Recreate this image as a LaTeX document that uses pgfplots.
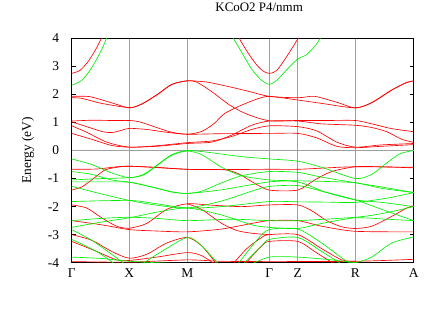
\documentclass[border=0pt]{standalone}
\usepackage{fontspec}
\setmainfont{Liberation Serif}
\usepackage{pgfplots}
\pgfplotsset{compat=1.18}
\definecolor{upc}{RGB}{255,0,0}
\definecolor{dnc}{RGB}{0,240,0}
\pgfplotsset{
  up/.style={color=upc, line width=0.65pt, smooth, tension=0.45, no markers},
  dn/.style={color=dnc, line width=0.65pt, smooth, tension=0.45, no markers},
}
\newcommand{\lblfont}{\fontsize{13.5}{15}\selectfont}
\begin{document}
\begin{tikzpicture}
\path[use as bounding box] (-71.7bp,-63.3bp) rectangle (364.3bp,262.7bp);
\begin{axis}[
  at={(0,0)}, anchor=south west,
  scale only axis, width=342bp, height=224.4bp,
  xmin=0, xmax=342, ymin=-4, ymax=4,
  ytick={-4,...,4},
  xtick={0,57.6,115.6,197.6,226,283.6,342},
  xticklabels={Γ,X,M,Γ,Z,R,A},
  xmajorgrids,
  major grid style={color=gray!75, line width=0.6pt},
  xtick style={draw=none},
  ytick style={color=black, line width=0.5pt},
  major tick length=4bp,
  tick align=inside,
  extra y ticks={0}, extra y tick labels={},
  extra y tick style={grid=major, ytick style={draw=none}},
  /pgf/number format/assume math mode=true,
  tick label style={font=\lblfont},
  yticklabel style={xshift=-9bp},
  xticklabel style={yshift=-2bp},
  ylabel={Energy (eV)},
  every axis y label/.style={at={(axis description cs:-0.128,0.5)}, rotate=90, anchor=center, font=\lblfont},
  title={KCoO2 P4/nmm},
  title style={font=\fontsize{13}{15}\selectfont, at={(axis description cs:0.548,1.111)}, anchor=center},
  axis line style={line width=0.7pt},
]
% spin up (red)
\addplot[up] coordinates {(0,2.75)(8,2.85)(16,3.15)(24,3.6)(31,4.1)};
\addplot[up] coordinates {(166,4.1)(175,3.55)(185,3.05)(192,2.82)(197.6,2.75)(205,2.85)(215,3.35)(226,3.97)(230,4.2)};
\addplot[up] coordinates {(0,1.93)(18,1.92)(40,1.7)(57.6,1.52)(70,1.65)(86,2.0)(100,2.35)(115.6,2.48)(135,2.44)(158,2.27)(178,2.1)(197.6,1.93)(226,1.88)(243,1.93)(265,1.72)(283.6,1.52)(300,1.7)(320,2.15)(335,2.42)(342,2.48)};
\addplot[up] coordinates {(0,1.88)(10,1.86)(30,1.68)(57.6,1.53)(70,1.66)(86,2.01)(100,2.36)(115.6,2.49)(125,2.44)(140,2.1)(158,1.62)(175,1.3)(197.6,1.06)(226,1.07)(255,1.07)(283.6,1.07)(300,0.95)(320,0.78)(342,0.67)};
\addplot[up] coordinates {(0,1.05)(20,1.08)(40,1.07)(57.6,1.07)(68,1.02)(85,0.82)(100,0.65)(115.6,0.58)(130,0.68)(142,0.95)(153,1.32)(170,1.62)(185,1.83)(197.6,1.93)(226,1.80)(250,1.68)(283.6,1.52)(300,1.71)(320,2.16)(335,2.43)(342,2.48)};
\addplot[up] coordinates {(0,1.02)(15,0.85)(30,0.68)(40,0.64)(50,0.72)(57.6,0.79)(75,0.75)(95,0.65)(115.6,0.58)(150,0.6)(197.6,0.61)(226,0.61)(245,0.45)(265,0.15)(283.6,0.1)(310,0.15)(342,0.21)};
\addplot[up] coordinates {(0,0.88)(15,0.65)(35,0.3)(57.6,0.12)(85,0.17)(115.6,0.28)(140,0.34)(160,0.5)(180,0.75)(197.6,0.88)(226,0.85)(245,0.7)(265,0.3)(283.6,0.12)(310,0.2)(342,0.25)};
\addplot[up] coordinates {(0,0.61)(20,0.4)(40,0.18)(57.6,0.12)(85,0.15)(115.6,0.25)(140,0.3)(160,0.55)(180,0.9)(197.6,1.05)(226,1.05)(250,0.95)(283.6,0.9)(300,0.82)(315,0.67)(330,0.4)(342,0.29)};
\addplot[up] coordinates {(0,-0.67)(25,-0.66)(45,-0.58)(57.6,-0.56)(85,-0.6)(115.6,-0.67)(153,-0.69)(168,-0.85)(180,-1.11)(197.6,-1.41)(226,-1.41)(243,-1.05)(260,-0.75)(283.6,-0.58)(310,-0.58)(342,-0.62)};
\addplot[up] coordinates {(0,-1.41)(10,-1.3)(20,-1.05)(33,-0.7)(45,-0.6)(57.6,-0.56)(85,-0.61)(115.6,-0.67)(150,-0.68)(197.6,-0.67)(226,-0.67)(255,-0.62)(283.6,-0.58)(342,-0.6)};
\addplot[up] coordinates {(0,-1.94)(15,-2.05)(30,-2.4)(45,-2.7)(57.6,-2.77)(75,-2.6)(95,-2.1)(115.6,-1.9)(140,-1.95)(170,-2.0)(197.6,-1.94)(226,-1.94)(240,-2.15)(255,-2.5)(270,-2.72)(283.6,-2.78)(300,-2.7)(320,-2.35)(335,-2.05)(342,-1.97)};
\addplot[up] coordinates {(0,-2.5)(30,-2.65)(57.6,-2.82)(85,-2.87)(115.6,-2.9)(150,-2.8)(180,-2.6)(197.6,-2.5)(226,-2.5)(250,-2.7)(283.6,-2.88)(342,-2.9)};
\addplot[up] coordinates {(115.6,-1.9)(130,-2.1)(150,-2.6)(165,-2.85)(180,-2.95)(197.6,-3.0)};
\addplot[up] coordinates {(0,-3.0)(20,-3.2)(40,-3.6)(57.6,-3.84)(75,-3.7)(95,-3.3)(115.6,-3.1)(130,-3.4)(146,-4.1)};
\addplot[up] coordinates {(160,-4.1)(175,-3.5)(190,-3.1)(197.6,-3.0)(226,-3.0)(250,-3.5)(270,-3.9)(283.6,-3.95)};
\addplot[up] coordinates {(0,-3.24)(25,-3.6)(45,-3.9)(57.6,-3.92)(85,-3.8)(115.6,-3.64)(130,-3.75)(145,-4.1)};
\addplot[up] coordinates {(172,-4.1)(190,-3.4)(197.6,-3.24)(226,-3.24)(245,-3.65)(265,-4.1)};
\addplot[up] coordinates {(0,-3.96)(57.6,-3.98)(115.6,-3.9)(150,-3.95)(197.6,-3.96)(283.6,-3.95)(342,-3.88)};
% spin down (green)
\addplot[dn] coordinates {(0,2.33)(10,2.5)(20,2.95)(30,3.6)(36,4.1)};
\addplot[dn] coordinates {(160,4.1)(170,3.5)(180,2.9)(190,2.5)(197.6,2.36)(205,2.5)(215,2.88)(226,3.26)(235,3.42)(245,3.8)(250,4.1)};
\addplot[dn] coordinates {(0,-0.3)(20,-0.5)(40,-0.8)(57.6,-0.97)(72,-0.85)(86,-0.5)(100,-0.15)(115.6,0.0)(140,-0.08)(170,-0.22)(197.6,-0.30)(226,-0.38)(250,-0.6)(283.6,-1.0)(300,-0.85)(313,-0.5)(328,-0.12)(342,0.0)};
\addplot[dn] coordinates {(0,-0.75)(20,-0.85)(40,-1.05)(57.6,-1.13)(80,-1.3)(100,-1.48)(115.6,-1.53)(130,-1.45)(150,-1.15)(170,-0.9)(197.6,-0.75)(226,-0.78)(250,-0.95)(283.6,-1.15)(310,-1.3)(342,-1.5)};
\addplot[dn] coordinates {(0,-1.05)(30,-1.0)(57.6,-0.97)(72,-0.87)(86,-0.52)(100,-0.17)(115.6,-0.02)(130,-0.15)(150,-0.6)(170,-0.9)(197.6,-1.05)(226,-1.08)(250,-1.1)(283.6,-1.15)(310,-1.35)(342,-1.5)};
\addplot[dn] coordinates {(0,-1.12)(30,-1.12)(57.6,-1.13)(80,-1.3)(100,-1.47)(115.6,-1.53)(150,-1.4)(197.6,-1.12)(226,-1.12)(255,-1.5)(283.6,-1.76)(310,-1.85)(342,-2.0)};
\addplot[dn] coordinates {(0,-1.28)(30,-1.55)(57.6,-1.78)(85,-1.95)(115.6,-2.05)(150,-1.8)(180,-1.45)(197.6,-1.28)(226,-1.25)(250,-1.45)(283.6,-1.76)(310,-2.1)(342,-2.5)};
\addplot[dn] coordinates {(0,-1.82)(57.6,-1.78)(85,-1.9)(115.6,-2.05)(150,-2.0)(197.6,-1.82)(226,-1.83)(255,-1.84)(283.6,-1.85)(315,-1.7)(342,-1.5)};
\addplot[dn] coordinates {(0,-2.5)(30,-2.42)(57.6,-2.38)(85,-2.42)(115.6,-2.5)(160,-2.45)(197.6,-2.5)(226,-2.5)(283.6,-2.38)(310,-2.25)(342,-2.0)};
\addplot[dn] coordinates {(0,-2.74)(30,-2.55)(57.6,-2.4)(85,-2.2)(115.6,-2.05)(150,-2.3)(180,-2.65)(197.6,-2.74)(226,-2.78)(250,-2.6)(283.6,-2.4)(315,-2.45)(342,-2.5)};
\addplot[dn] coordinates {(0,-2.82)(20,-3.2)(40,-3.7)(55,-4.1)};
\addplot[dn] coordinates {(68,-4.1)(90,-3.6)(115.6,-3.1)(130,-3.4)(148,-4.1)};
\addplot[dn] coordinates {(165,-4.1)(185,-3.2)(197.6,-2.82)(226,-2.8)(250,-3.3)(275,-3.95)(283.6,-4.0)(300,-3.8)(320,-3.3)(342,-3.08)};
\addplot[dn] coordinates {(0,-3.17)(25,-3.6)(45,-4.1)};
\addplot[dn] coordinates {(170,-4.1)(190,-3.4)(197.6,-3.17)(226,-3.1)(250,-3.6)(272,-4.1)};
\addplot[dn] coordinates {(0,-3.8)(30,-3.85)(57.6,-3.95)(85,-4.0)(115.6,-4.05)};
\addplot[dn] coordinates {(180,-4.05)(197.6,-3.8)(226,-3.8)(260,-3.9)(283.6,-4.0)};
\end{axis}
\end{tikzpicture}
\end{document}
